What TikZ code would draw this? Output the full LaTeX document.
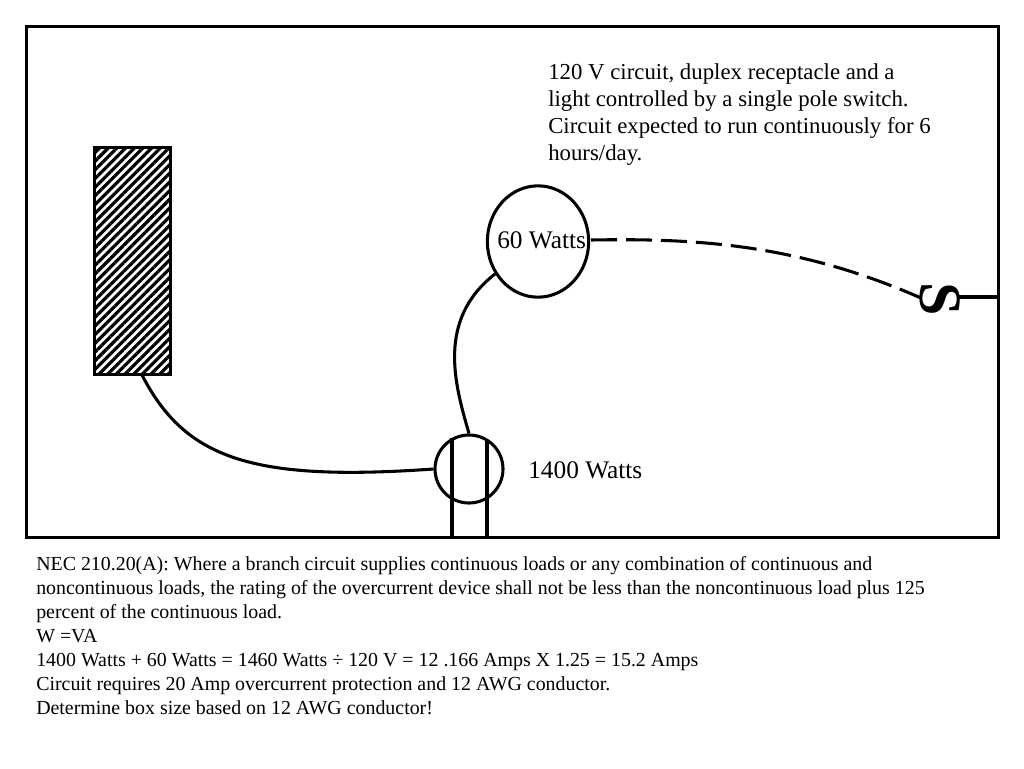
\documentclass[tikz,border=0pt]{standalone}
\usepackage{fontspec}
\setmainfont{Liberation Serif}
\usetikzlibrary{shapes.geometric,patterns.meta}

\tikzset{
    wire/.style={line width=2.3pt},
    upper/.style={anchor=base west,align=left,inner sep=0pt,font=\fontsize{17.1}{20.25}\selectfont},
    lower/.style={anchor=base west,align=left,inner sep=0pt,font=\fontsize{14.92}{18}\selectfont},
    tag/.style={anchor=base west,inner sep=0pt,font=\fontsize{19}{20}\selectfont},
}

\begin{document}
\begin{tikzpicture}[x=0.75pt,y=-0.75pt]
    \useasboundingbox (0,0) rectangle (1024,768);
    \fill [white] (0,0) rectangle (1024,768);

    \node [draw,wire,rectangle,minimum width=57.5pt,minimum height=170.5pt,inner sep=0pt,
        pattern={Lines[angle=45,distance=4.6pt,line width=2.4pt]}] (panel) at (132.5,261) {};
    \node [draw,wire,ellipse,minimum width=76pt,minimum height=83.5pt,inner sep=0pt] (lamp) at (538,241.5) {};
    \node [draw,wire,circle,minimum size=51pt,inner sep=0pt] (meter) at (469,469) {};
    \node [rotate=-90,font=\fontsize{45}{45}\bfseries\selectfont,inner sep=0pt] (switch) at (940,299) {S};

    \node [upper] (note) at (548,160) {120 V circuit, duplex receptacle and a\\light controlled by a single pole switch.\\Circuit expected to run continuously for 6\\hours/day.};
    \node [tag] (lamplabel) at (497,248) {60 Watts};
    \node [tag] (meterlabel) at (528,478) {1400 Watts};
    \node [lower] (code) at (36,714) {NEC 210.20(A): Where a branch circuit supplies continuous loads or any combination of continuous and\\noncontinuous loads, the rating of the overcurrent device shall not be less than the noncontinuous load plus 125\\percent of the continuous load.\\W =VA\\1400 Watts + 60 Watts = 1460 Watts ÷ 120 V = 12 .166 Amps X 1.25 = 15.2 Amps\\Circuit requires 20 Amp overcurrent protection and 12 AWG conductor.\\Determine box size based on 12 AWG conductor!};

    \coordinate (frameleft) at (26,26);
    \coordinate (frameright) at (998,537);
    \draw [line width=2.25pt] (frameleft) rectangle (frameright);

    \coordinate (panelfeed) at (142,375);
    \coordinate (lampfeed) at (495,274);
    \coordinate (lampout) at (591,240);
    \coordinate (switchin) at (921,298);
    \coordinate (switchout) at (958,297);
    \coordinate (wallend) at (998,297);
    \coordinate (lineatop) at (452,438);
    \coordinate (lineabot) at (452,537);
    \coordinate (linebtop) at (486.5,441);
    \coordinate (linebbot) at (486.5,537);

    \draw [wire] (panelfeed) .. controls (185,458) and (250,482) .. (meter.west);
    \draw [wire] (meter.north) .. controls (455,385) and (436,320) .. (lampfeed);
    \draw [wire,dash pattern=on 19.5pt off 6.75pt] (lampout) .. controls (700,238) and (800,245) .. (switchin);
    \draw [line width=3pt] (switchout) -- (wallend);
    \draw [line width=3pt] (lineatop) -- (lineabot);
    \draw [line width=3pt] (linebtop) -- (linebbot);
\end{tikzpicture}
\end{document}
